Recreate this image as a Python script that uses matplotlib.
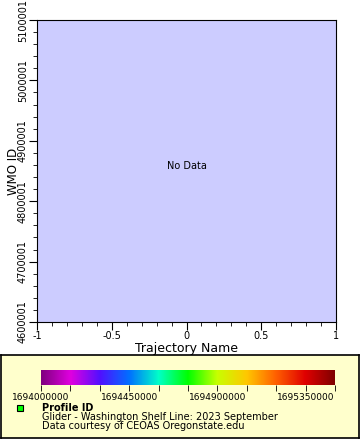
import matplotlib
matplotlib.use("Agg")
import matplotlib.pyplot as plt
import numpy as np
from matplotlib.colors import LinearSegmentedColormap
from matplotlib.ticker import MultipleLocator, FixedLocator

x_range = [-1, 1]
x_ticks = [-1, -0.5, 0, 0.5, 1]
x_tick_labels = ["-1", "-0.5", "0", "0.5", "1"]
y_range = [4600001, 5100001]
y_ticks = [4600001, 4700001, 4800001, 4900001, 5000001, 5100001]
y_tick_labels = ["4600001", "4700001", "4800001", "4900001", "5000001", "5100001"]
cbar_range = [1694000000, 1695500000]
cbar_ticks = [1694000000, 1694150000, 1694300000, 1694450000, 1694600000, 1694750000,
              1694900000, 1695050000, 1695200000, 1695350000, 1695500000]
cbar_labels = ["1694000000", "", "", "1694450000", "", "", "1694900000", "", "", "1695350000", ""]
cmap_colors = ["#800080", "#e000e0", "#5010ff", "#0070ff", "#00ffc8", "#00ff00",
               "#c8ff00", "#ffc800", "#ff6000", "#e00000", "#800000"]

fig = plt.figure(figsize=(3.6, 4.4), dpi=100)
W, H = 360, 440

ax = fig.add_axes([37 / W, 1 - 322 / H, (336 - 37) / W, (322 - 20) / H])
ax.set_facecolor("#ccccff")
ax.set_xlim(*x_range)
ax.set_ylim(*y_range)
ax.set_xticks(x_ticks)
ax.set_xticklabels(x_tick_labels, fontsize=7)
ax.set_yticks(y_ticks)
ax.set_yticklabels(y_tick_labels, fontsize=7, rotation=90, va="center")
ax.xaxis.set_minor_locator(MultipleLocator(0.1))
ax.yaxis.set_minor_locator(FixedLocator(np.arange(y_range[0], y_range[1] + 1, 20000)))
ax.tick_params(which="major", length=5.5, width=0.8, pad=1)
ax.tick_params(which="minor", length=3, width=0.6)
ax.set_xlabel("Trajectory Name", fontsize=9, labelpad=1)
ax.set_ylabel("WMO ID", fontsize=8.5)
ax.yaxis.set_label_coords(-17 / 299, 0.5)
ax.text(0, (y_range[0] + y_range[1]) / 2 + 8000, "No Data", ha="center", va="center", fontsize=7)

# legend box
lg = fig.add_axes([1 / W, 1 - 438 / H, 358 / W, (438 - 355) / H])
lg.set_facecolor("#ffffcc")
lg.set_xticks([]); lg.set_yticks([])
lg.set_xlim(0, 358); lg.set_ylim(83, 0)
for s in lg.spines.values():
    s.set_linewidth(1.2)
lg.plot([19], [53], marker="s", ms=4.5, mfc="#00ff00", mec="black", mew=0.8)
lg.text(41, 53, "Profile ID", fontsize=7, fontweight="bold", va="center")
lg.text(41, 62, "Glider - Washington Shelf Line: 2023 September", fontsize=7, va="center")
lg.text(41, 71, "Data courtesy of CEOAS Oregonstate.edu", fontsize=7, va="center")

# colorbar
cax = fig.add_axes([41 / W, 1 - 385 / H, (335 - 41) / W, 15 / H])
cmap = LinearSegmentedColormap.from_list("rb2", cmap_colors)
grad = np.linspace(cbar_range[0], cbar_range[1], 256).reshape(1, -1)
cax.imshow(grad, aspect="auto", cmap=cmap, extent=[cbar_range[0], cbar_range[1], 0, 1])
cax.set_xlim(*cbar_range)
cax.set_yticks([])
cax.set_xticks(cbar_ticks)
cax.set_xticklabels(cbar_labels, fontsize=6.5)
cax.tick_params(axis="x", length=4, width=0.6, pad=2)
for s in cax.spines.values():
    s.set_visible(False)

fig.savefig("out.png", dpi=100, facecolor="white")
